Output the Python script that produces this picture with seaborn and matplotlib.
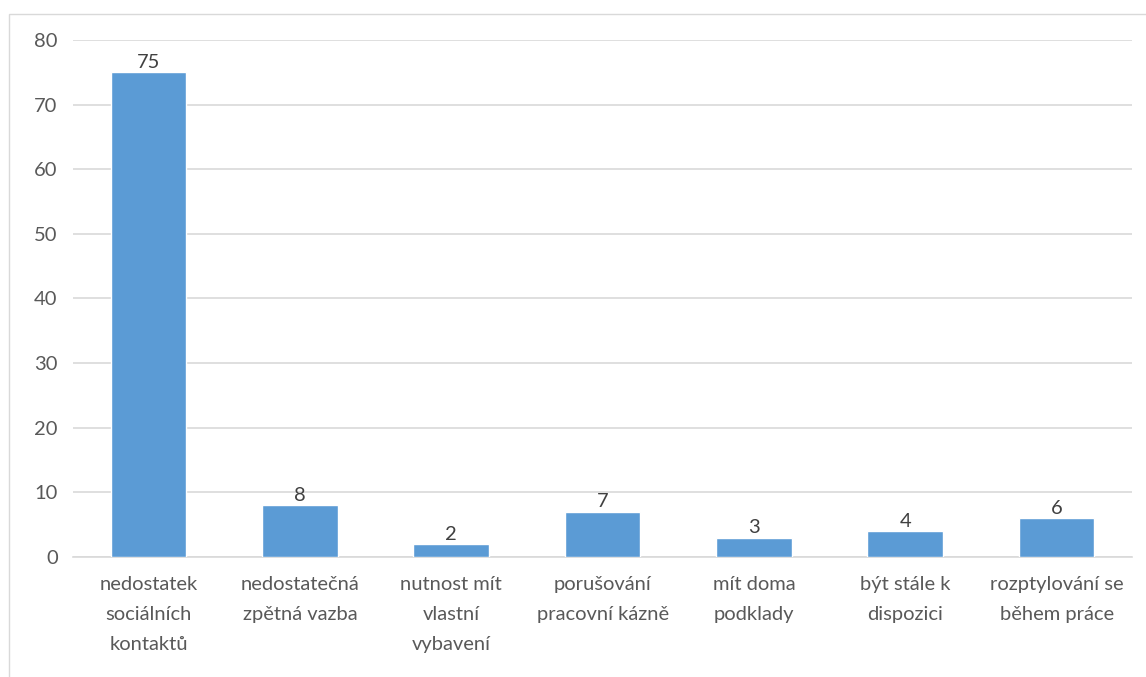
import numpy as np
import pandas as pd
import matplotlib
matplotlib.use('Agg')
import matplotlib.pyplot as plt
import seaborn as sns
from matplotlib.patches import Rectangle

# Data
categories = [
    'nedostatek\nsociálních\nkontaktů',
    'nedostatečná\nzpětná vazba',
    'nutnost mít\nvlastní\nvybavení',
    'porušování\npracovní kázně',
    'mít doma\npodklady',
    'být stále k\ndispozici',
    'rozptylování se\nběhem práce',
]
counts = [75, 8, 2, 7, 3, 4, 6]
y_ticks = [0, 10, 20, 30, 40, 50, 60, 70, 80]

sns.set_theme(style="white")
plt.rcParams['font.family'] = ['Lato', 'DejaVu Sans']

text_color = '#595959'
bar_color = '#5B9BD5'
grid_color = '#D9D9D9'

df = pd.DataFrame({'category': categories, 'count': counts})

fig = plt.figure(figsize=(11.46, 6.77), dpi=100)
ax = fig.add_axes([0.0637, 0.1773, 0.9243, 0.7636])

sns.barplot(x='category', y='count', data=df, color=bar_color, width=0.5,
            saturation=1, ax=ax, zorder=3)

ax.set_ylim(0, 80)
ax.set_xlim(-0.5, len(categories) - 0.5)
ax.set_yticks(y_ticks)
ax.yaxis.grid(True, color=grid_color, linewidth=1.2, zorder=0)
ax.set_axisbelow(True)
ax.set_xlabel('')
ax.set_ylabel('')
for side in ['top', 'right', 'left']:
    ax.spines[side].set_visible(False)
ax.spines['bottom'].set_color(grid_color)
ax.spines['bottom'].set_linewidth(1.2)

ax.set_xticks(range(len(categories)))
ax.set_xticklabels(categories, linespacing=1.9)
ax.tick_params(axis='y', colors=text_color, labelsize=14.5, length=0, pad=11)
ax.tick_params(axis='x', colors=text_color, labelsize=14.5, length=0, pad=14)

# value labels above bars
ax.bar_label(ax.containers[0], labels=[str(v) for v in counts],
             color='#404040', fontsize=14.5, padding=1)

# light chart frame
fig.patches.append(Rectangle((9 / 1146, -0.1), 1.2, 1 - 14 / 677 + 0.1,
                             transform=fig.transFigure, fill=False,
                             edgecolor='#D9D9D9', linewidth=1.0))

fig.savefig('out.png', dpi=100)
